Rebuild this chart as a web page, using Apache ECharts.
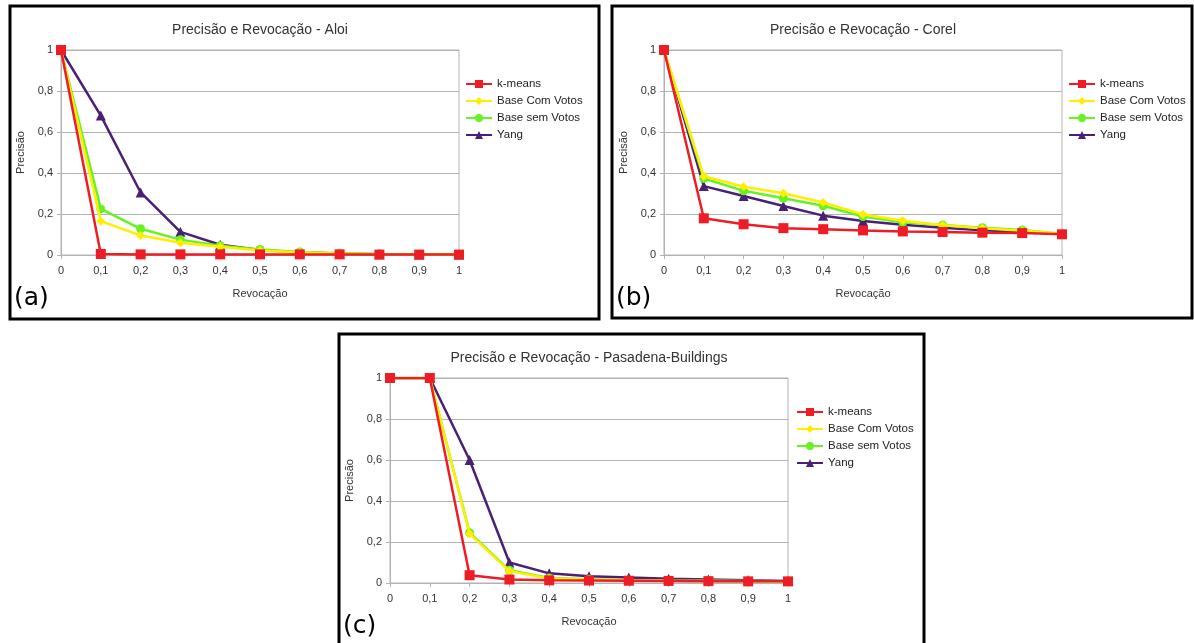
<!DOCTYPE html>
<html><head><meta charset="utf-8">
<script src="https://cdn.jsdelivr.net/npm/echarts@6/dist/echarts.min.js"></script>
<style>html,body{margin:0;padding:0;background:#fff}#c{width:1194px;height:643px}</style>
</head><body><div id="c"></div>
<script>
const categories = ['0','0,1','0,2','0,3','0,4','0,5','0,6','0,7','0,8','0,9','1'];
const seriesNames = ['k-means','Base Com Votos','Base sem Votos','Yang'];
const yTicks = ['0','0,2','0,4','0,6','0,8','1'];
const chartTitles = ['Precisão e Revocação - Aloi','Precisão e Revocação - Corel','Precisão e Revocação - Pasadena-Buildings'];
const panelLabels = ['(a)','(b)','(c)'];

const aloiKmeans = [1, 0.005, 0.003, 0.003, 0.003, 0.003, 0.003, 0.003, 0.002, 0.002, 0.002];
const aloiComVotos = [1, 0.165, 0.095, 0.06, 0.04, 0.022, 0.012, 0.007, 0.004, 0.003, 0.002];
const aloiSemVotos = [1, 0.225, 0.128, 0.075, 0.045, 0.027, 0.015, 0.009, 0.005, 0.003, 0.002];
const aloiYang = [1, 0.68, 0.305, 0.113, 0.05, 0.025, 0.012, 0.007, 0.004, 0.003, 0.002];

const corelKmeans = [1, 0.179, 0.15, 0.131, 0.126, 0.12, 0.115, 0.112, 0.109, 0.107, 0.101];
const corelComVotos = [1, 0.384, 0.333, 0.301, 0.256, 0.198, 0.167, 0.145, 0.13, 0.118, 0.104];
const corelSemVotos = [1, 0.373, 0.313, 0.277, 0.24, 0.188, 0.16, 0.146, 0.133, 0.122, 0.103];
const corelYang = [1, 0.336, 0.288, 0.239, 0.192, 0.166, 0.147, 0.133, 0.121, 0.113, 0.103];

const pasKmeans = [1, 1, 0.038, 0.017, 0.013, 0.012, 0.011, 0.01, 0.009, 0.008, 0.008];
const pasComVotos = [1, 1, 0.24, 0.058, 0.022, 0.016, 0.013, 0.011, 0.01, 0.009, 0.008];
const pasSemVotos = [1, 1, 0.245, 0.062, 0.025, 0.018, 0.014, 0.012, 0.011, 0.01, 0.009];
const pasYang = [1, 1, 0.6, 0.1, 0.047, 0.033, 0.027, 0.021, 0.017, 0.013, 0.01];

const panelData = [
  [aloiKmeans, aloiComVotos, aloiSemVotos, aloiYang],
  [corelKmeans, corelComVotos, corelSemVotos, corelYang],
  [pasKmeans, pasComVotos, pasSemVotos, pasYang]
];

const colors = ['#ee1d25', '#ffee00', '#66f321', '#4a2077'];
const symbols = ['rect', 'diamond', 'circle', 'triangle'];
const symSizes = [10, 9, 9, 10];

const boxes = [
  {x: 10, y: 6, w: 589, h: 313},
  {x: 612, y: 6, w: 580, h: 312},
  {x: 339, y: 334, w: 585, h: 320}
];
const grids = [
  {left: 61, top: 50, width: 398, height: 205},
  {left: 664, top: 50, width: 398, height: 205},
  {left: 390, top: 378, width: 398, height: 205}
];
const legendPos = [
  {left: 460, top: 73},
  {left: 1063, top: 73},
  {left: 791, top: 401}
];
const font = 'Liberation Sans, Arial, sans-serif';

const chart = echarts.init(document.getElementById('c'), null, {renderer: 'canvas'});
const option = {
  animation: false,
  backgroundColor: '#fff',
  color: colors,
  grid: grids.map(g => Object.assign({show: true, borderColor: '#b3b3b3', borderWidth: 1, backgroundColor: 'transparent'}, g)),
  xAxis: grids.map((g, i) => ({
    type: 'category', gridIndex: i, data: categories, boundaryGap: false,
    name: 'Revocação', nameLocation: 'middle', nameGap: 33,
    nameTextStyle: {fontFamily: font, fontSize: 11, color: '#333'},
    axisLine: {lineStyle: {color: '#b3b3b3', width: 1}},
    axisTick: {show: true, alignWithLabel: true, length: 4, lineStyle: {color: '#b3b3b3'}},
    axisLabel: {fontFamily: font, fontSize: 11, color: '#333', margin: 10, interval: 0},
    splitLine: {show: false}
  })),
  yAxis: grids.map((g, i) => ({
    type: 'value', gridIndex: i, min: 0, max: 1, interval: 0.2,
    name: 'Precisão', nameLocation: 'middle', nameGap: 35,
    nameTextStyle: {fontFamily: font, fontSize: 11, color: '#333'},
    axisLine: {show: true, lineStyle: {color: '#b3b3b3', width: 1}},
    axisTick: {show: true, length: 4, lineStyle: {color: '#b3b3b3'}},
    axisLabel: {fontFamily: font, fontSize: 11, color: '#333', margin: 8,
      formatter: v => yTicks[Math.round(v / 0.2)]},
    splitLine: {show: true, lineStyle: {color: '#b3b3b3', width: 1}}
  })),
  legend: legendPos.map((p, i) => ({
    left: p.left, top: p.top, orient: 'vertical', itemGap: 5,
    itemWidth: 26, itemHeight: 10,
    textStyle: {fontFamily: font, fontSize: 11.5, color: '#222'},
    data: seriesNames.map(n => ({name: n + '\u200b'.repeat(i)}))
  })),
  series: [],
  graphic: []
};

panelData.forEach((arr, p) => {
  arr.forEach((vals, s) => {
    option.series.push({
      name: seriesNames[s] + '\u200b'.repeat(p), type: 'line',
      xAxisIndex: p, yAxisIndex: p,
      data: vals, symbol: symbols[s], symbolSize: symSizes[s],
      showAllSymbol: true,
      lineStyle: {width: 2.5, color: colors[s]},
      itemStyle: {color: colors[s]},
      z: 10 - s + (s === 0 ? 10 : 0)
    });
  });
});

boxes.forEach((b, i) => {
  option.graphic.push({
    type: 'rect', shape: {x: b.x, y: b.y, width: b.w, height: b.h},
    style: {fill: 'none', stroke: '#000', lineWidth: 3}, z: 100
  });
  const g = grids[i];
  option.graphic.push({
    type: 'text', x: g.left + g.width / 2, y: b.y + 24,
    style: {text: chartTitles[i], fontFamily: font, fontSize: 14, fill: '#333', textAlign: 'center', textVerticalAlign: 'middle'}
  });
  option.graphic.push({
    type: 'text', x: b.x + 4, y: g.top + g.height + 43,
    style: {text: panelLabels[i], fontFamily: 'DejaVu Sans, sans-serif', fontSize: 25, fill: '#000', textAlign: 'left', textVerticalAlign: 'middle'}
  });
});

chart.setOption(option);
</script>
</body></html>
